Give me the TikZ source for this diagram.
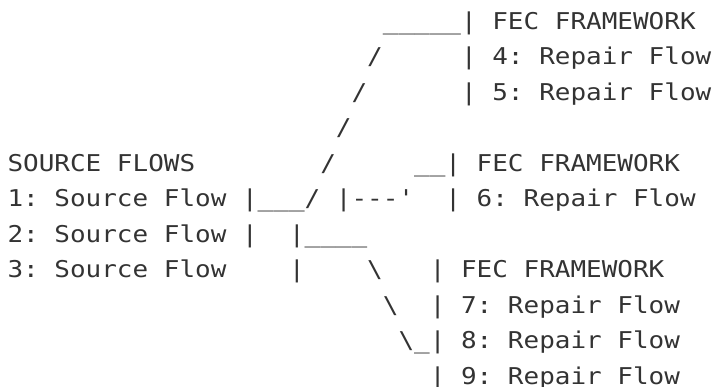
\documentclass[tikz,border=0pt]{standalone}
\usepackage{fontspec}
\setmonofont{DejaVu Sans Mono}
\definecolor{ink}{HTML}{333333}
\begin{document}
\begin{tikzpicture}[x=15.64pt,y=-35.48pt,
  art/.style={anchor=base west,inner sep=0pt,outer sep=0pt,text=ink,yscale=0.89,
    font=\ttfamily\fontsize{25.98pt}{30pt}\selectfont}]
\useasboundingbox (0pt,0pt) rectangle (714pt,-387pt);
\begin{scope}[shift={(7.5pt,-29.3pt)}]
  % first FEC framework: repair flows 4 and 5
  \node[art] (fwa)  at (24,0) {\_\_\_\_\_| FEC FRAMEWORK};
  \node[art] (sa1)  at (23,1) {/};
  \node[art] (rf4)  at (29,1) {| 4: Repair Flow};
  \node[art] (sa2)  at (22,2) {/};
  \node[art] (rf5)  at (29,2) {| 5: Repair Flow};
  \node[art] (sa3)  at (21,3) {/};
  % source flows and second FEC framework
  \node[art] (src)  at (0,4)  {SOURCE FLOWS};
  \node[art] (sa4)  at (20,4) {/};
  \node[art] (fwb)  at (26,4) {\_\_| FEC FRAMEWORK};
  \node[art] (sf1)  at (0,5)  {1: Source Flow |\_\_\_/ |-{}-{}-\textquotesingle};
  \node[art] (rf6)  at (28,5) {| 6: Repair Flow};
  \node[art] (sf2)  at (0,6)  {2: Source Flow |};
  \node[art] (sb1)  at (18,6) {|\_\_\_\_};
  % third FEC framework: repair flows 7, 8 and 9
  \node[art] (sf3)  at (0,7)  {3: Source Flow};
  \node[art] (sb2)  at (18,7) {|};
  \node[art] (sc1)  at (23,7) {\textbackslash};
  \node[art] (fwc)  at (27,7) {| FEC FRAMEWORK};
  \node[art] (sc2)  at (24,8) {\textbackslash};
  \node[art] (rf7)  at (27,8) {| 7: Repair Flow};
  \node[art] (rf8)  at (25,9) {\textbackslash\_| 8: Repair Flow};
  \node[art] (rf9)  at (27,10) {| 9: Repair Flow};
\end{scope}
\end{tikzpicture}
\end{document}
